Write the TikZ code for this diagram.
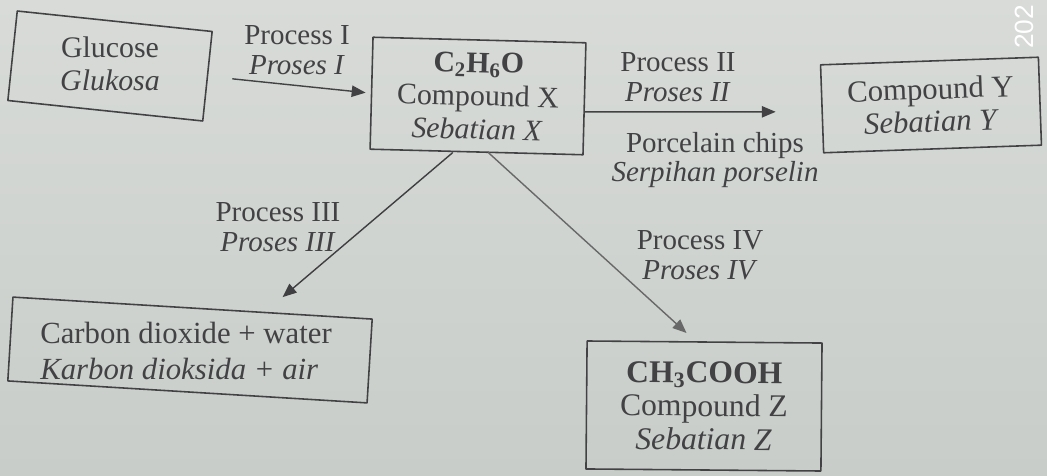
\documentclass[tikz,border=0pt]{standalone}
\usepackage{fontspec}
\setmainfont{Liberation Serif}
\newfontfamily\stampfont{Liberation Sans}
\usepackage{tikz}
\usetikzlibrary{arrows}
\definecolor{ink}{RGB}{66,66,68}
\definecolor{papertop}{RGB}{216,219,215}
\definecolor{paperbot}{RGB}{200,205,201}
\tikzset{box/.style={draw=ink,line width=0.9pt,align=center,text=ink,inner sep=2pt,font=\fontsize{17}{19}\selectfont},
  boxtext/.style={align=center,text=ink,inner sep=1pt,font=\fontsize{17}{19}\selectfont},
  lbl/.style={align=center,text=ink,inner sep=1pt,font=\fontsize{16.5}{17}\selectfont}}

\begin{document}
\begin{tikzpicture}[line cap=round,line join=round,>=triangle 45,x=0.02cm,y=-0.02cm]
      \useasboundingbox (0,0) rectangle (1047,476);
      \shade[top color=papertop,bottom color=paperbot] (0,0) rectangle (1047,476);
      \node[box,rotate=-6,minimum width=3.92cm,minimum height=1.8cm] (glucose) at (110,66) {};
      \node[boxtext] (glucosetext) at (110,64) {Glucose\\ \textit{Glukosa}};
      \node[box,rotate=-1.5,minimum width=4.26cm,minimum height=2.24cm] (compX) at (478,96) {\textbf{C\textsubscript{2}H\textsubscript{6}O}\\ Compound X\\ \textit{Sebatian X}};
      \node[box,rotate=2,minimum width=4.36cm,minimum height=1.76cm,font=\fontsize{17.5}{18.5}\selectfont] (compY) at (931,105) {Compound Y\\ \textit{Sebatian Y}};
      \node[box,rotate=-3.5,minimum width=7.2cm,minimum height=1.68cm] (carbon) at (190,350) {};
      \node[boxtext,align=left,font=\fontsize{17.5}{21}\selectfont] (carbontext) at (186,351) {Carbon dioxide + water\\ \textit{Karbon dioksida + air}};
      \node[box,rotate=-0.5,minimum width=4.7cm,minimum height=2.56cm,font=\fontsize{18}{19}\selectfont] (compZ) at (704,406) {\textbf{CH\textsubscript{3}COOH}\\ Compound Z\\ \textit{Sebatian Z}};
      % process labels
      \node[lbl] (procI) at (297,50) {Process I\\ \textit{Proses I}};
      \node[lbl] (procII) at (678,77) {Process II\\ \textit{Proses II}};
      \node[lbl] (chips) at (715,160) {Porcelain chips\\ \textit{Serpihan porselin}};
      \node[lbl] (procIII) at (278,227) {Process III\\ \textit{Proses III}};
      \node[lbl] (procIV) at (700,255) {Process IV\\ \textit{Proses IV}};
      \node[rotate=90,text=white,font=\stampfont\fontsize{15}{15}\selectfont] (stamp) at (1024,27) {202};
      % arrows
      \draw[->,color=ink,line width=0.8pt,shorten <=14pt,shorten >=3pt] (glucose.east) -- (compX.west);
      \draw[->,color=ink,line width=0.8pt,shorten >=26pt] ([yshift=-0.26cm]compX.east) -- ([yshift=-0.06cm]compY.west);
      \draw[->,color=ink!95!black,line width=0.8pt,shorten >=9pt] ([xshift=-0.48cm]compX.south) -- ([xshift=1.56cm]carbon.north);
      \draw[->,color=ink!80,line width=0.8pt,shorten >=7pt] ([xshift=0.24cm]compX.south) -- ([xshift=-0.18cm]compZ.north);
    \end{tikzpicture}
\end{document}
